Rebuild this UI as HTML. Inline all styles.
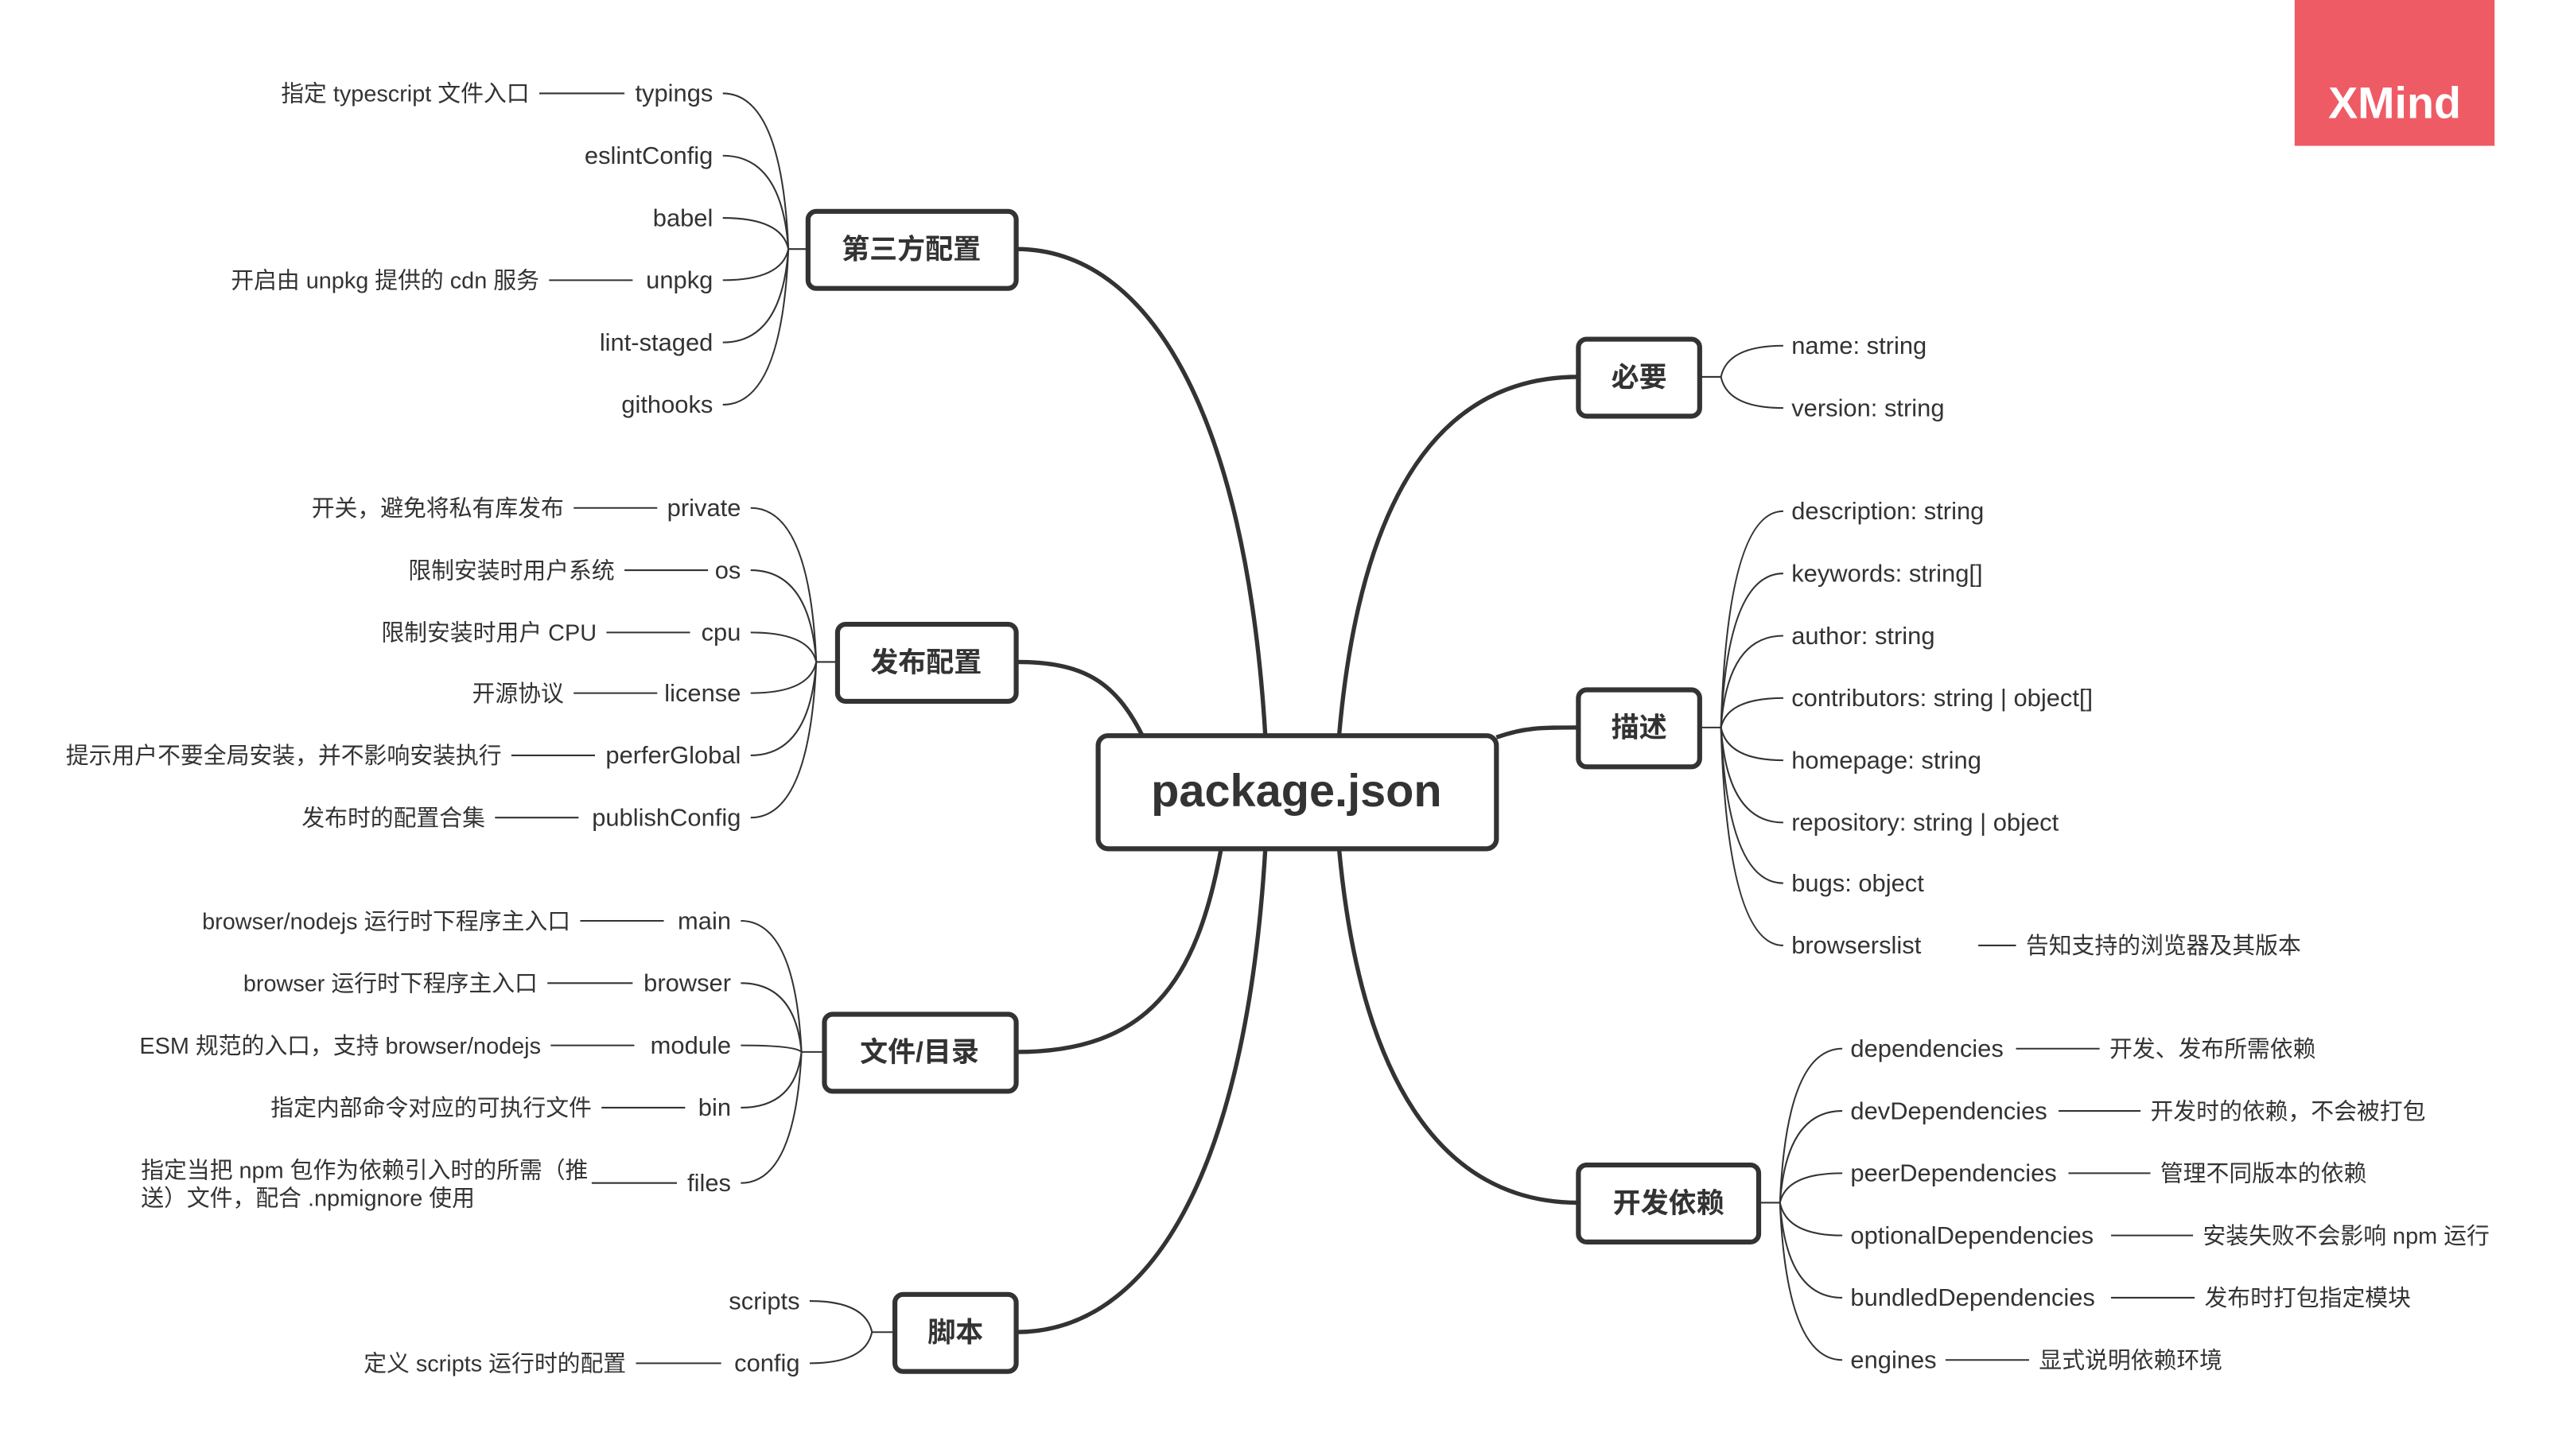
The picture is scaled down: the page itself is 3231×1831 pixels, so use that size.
<!DOCTYPE html>
<html><head><meta charset="utf-8"><style>
html,body{margin:0;padding:0;background:#fff;}
svg{display:block}
text{font-family:"Liberation Sans","Noto Sans CJK SC",sans-serif;fill:#333;font-size:14px}
.e{font-size:15px}
.l{text-anchor:end}
.n{font-size:17px;font-weight:bold;text-anchor:middle}
</style></head><body>
<svg width="3231" height="1831" viewBox="0 0 1568 888.6" preserveAspectRatio="none" xmlns="http://www.w3.org/2000/svg">
<rect width="1570" height="890" fill="#fff"/>
<rect x="1400" y="0" width="122" height="89" fill="#ef5b64"/>
<text x="1461" y="72" style="fill:#fff;font-size:27px;font-weight:bold;text-anchor:middle">XMind</text>

<g fill="none" stroke="#333" stroke-width="2.6">
<path d="M772,449 C760,250 700,152 620,152"/>
<path d="M697,449 C680,415 660,404 620,404"/>
<path d="M745,518 C730,600 700,642 620,642"/>
<path d="M772,518 C760,720 700,813 620,813"/>
<path d="M817,449 C830,300 880,230 963,230"/>
<path d="M913,450 C930,444 940,444 963,444"/>
<path d="M817,518 C830,660 880,734 963,734"/>
</g>

<g fill="none" stroke="#333" stroke-width="1">
<path d="M493,152 H481"/>
<path d="M481,152 Q477,57 441,57"/><path d="M481,152 Q477,95 441,95"/><path d="M481,152 Q477,133 441,133"/>
<path d="M481,152 Q477,171 441,171"/><path d="M481,152 Q477,209 441,209"/><path d="M481,152 Q477,247 441,247"/>
<path d="M329,57 H381"/><path d="M335,171 H386"/>
<path d="M511,404 H498"/>
<path d="M498,404 Q494,310 458,310"/><path d="M498,404 Q494,348 458,348"/><path d="M498,404 Q494,386 458,386"/>
<path d="M498,404 Q494,423 458,423"/><path d="M498,404 Q494,461 458,461"/><path d="M498,404 Q494,499 458,499"/>
<path d="M350,310 H401"/><path d="M381,348 H432"/><path d="M370,386 H421"/><path d="M350,423 H401"/><path d="M312,461 H363"/><path d="M302,499 H353"/>
<path d="M503,642 H489"/>
<path d="M489,642 Q485,562 452,562"/><path d="M489,642 Q485,600 452,600"/><path d="M489,642 Q485,638 452,638"/>
<path d="M489,642 Q485,676 452,676"/><path d="M489,642 Q485,722 452,722"/>
<path d="M354,562 H405"/><path d="M334,600 H386"/><path d="M336,638 H387"/><path d="M367,676 H418"/><path d="M361,722 H413"/>
<path d="M546,813 H532"/>
<path d="M532,813 Q528,794 494,794"/><path d="M532,813 Q528,832 494,832"/>
<path d="M388,832 H440"/>
<path d="M1037,230 H1050"/>
<path d="M1050,230 Q1054,211 1088,211"/><path d="M1050,230 Q1054,249 1088,249"/>
<path d="M1037,444 H1050"/>
<path d="M1050,444 Q1054,312 1088,312"/><path d="M1050,444 Q1054,350 1088,350"/><path d="M1050,444 Q1054,388 1088,388"/>
<path d="M1050,444 Q1054,426 1088,426"/><path d="M1050,444 Q1054,464 1088,464"/><path d="M1050,444 Q1054,502 1088,502"/>
<path d="M1050,444 Q1054,539 1088,539"/><path d="M1050,444 Q1054,577 1088,577"/>
<path d="M1207,577 H1230"/>
<path d="M1073,734 H1086"/>
<path d="M1086,734 Q1090,640 1124,640"/><path d="M1086,734 Q1090,678 1124,678"/><path d="M1086,734 Q1090,716 1124,716"/>
<path d="M1086,734 Q1090,754 1124,754"/><path d="M1086,734 Q1090,792 1124,792"/><path d="M1086,734 Q1090,830 1124,830"/>
<path d="M1230,640 H1281"/><path d="M1256,678 H1306"/><path d="M1262,716 H1312"/><path d="M1288,754 H1338"/><path d="M1288,792 H1339"/><path d="M1187,830 H1238"/>
</g>

<g fill="#fff" stroke="#333" stroke-width="3">
<rect x="670" y="449" width="243" height="69" rx="6"/>
<rect x="493" y="129" width="127" height="47" rx="5"/>
<rect x="511" y="381" width="109" height="47" rx="5"/>
<rect x="503" y="619" width="117" height="47" rx="5"/>
<rect x="546" y="790" width="74" height="47" rx="5"/>
<rect x="963" y="207" width="74" height="47" rx="5"/>
<rect x="963" y="421" width="74" height="47" rx="5"/>
<rect x="963" y="711" width="110" height="47" rx="5"/>
</g>
<text x="791" y="492" style="font-size:28px;font-weight:bold;text-anchor:middle">package.json</text>
<text class="n" x="556" y="158">第三方配置</text>
<text class="n" x="565" y="410">发布配置</text>
<text class="n" x="561" y="648">文件/目录</text>
<text class="n" x="583" y="819">脚本</text>
<text class="n" x="1000" y="236">必要</text>
<text class="n" x="1000" y="450">描述</text>
<text class="n" x="1018" y="740">开发依赖</text>

<text class="l e" x="435" y="62">typings</text>
<text class="l e" x="435" y="100">eslintConfig</text>
<text class="l e" x="435" y="138">babel</text>
<text class="l e" x="435" y="176">unpkg</text>
<text class="l e" x="435" y="214">lint-staged</text>
<text class="l e" x="435" y="252">githooks</text>
<text class="l" x="323" y="62">指定 typescript 文件入口</text>
<text class="l" x="329" y="176">开启由 unpkg 提供的 cdn 服务</text>

<text class="l e" x="452" y="315">private</text>
<text class="l e" x="452" y="353">os</text>
<text class="l e" x="452" y="391">cpu</text>
<text class="l e" x="452" y="428">license</text>
<text class="l e" x="452" y="466">perferGlobal</text>
<text class="l e" x="452" y="504">publishConfig</text>
<text class="l" x="344" y="315">开关，避免将私有库发布</text>
<text class="l" x="375" y="353">限制安装时用户系统</text>
<text class="l" x="364" y="391">限制安装时用户 CPU</text>
<text class="l" x="344" y="428">开源协议</text>
<text class="l" x="306" y="466">提示用户不要全局安装，并不影响安装执行</text>
<text class="l" x="296" y="504">发布时的配置合集</text>

<text class="l e" x="446" y="567">main</text>
<text class="l e" x="446" y="605">browser</text>
<text class="l e" x="446" y="643">module</text>
<text class="l e" x="446" y="681">bin</text>
<text class="l e" x="446" y="727">files</text>
<text class="l" x="348" y="567">browser/nodejs 运行时下程序主入口</text>
<text class="l" x="328" y="605">browser 运行时下程序主入口</text>
<text class="l" x="330" y="643">ESM 规范的入口，支持 browser/nodejs</text>
<text class="l" x="361" y="681">指定内部命令对应的可执行文件</text>
<text x="86" y="719">指定当把 npm 包作为依赖引入时的所需（推</text>
<text x="86" y="736">送）文件，配合 .npmignore 使用</text>

<text class="l e" x="488" y="799">scripts</text>
<text class="l e" x="488" y="837">config</text>
<text class="l" x="382" y="837">定义 scripts 运行时的配置</text>

<text class="e" x="1093" y="216">name: string</text>
<text class="e" x="1093" y="254">version: string</text>

<text class="e" x="1093" y="317">description: string</text>
<text class="e" x="1093" y="355">keywords: string[]</text>
<text class="e" x="1093" y="393">author: string</text>
<text class="e" x="1093" y="431">contributors: string | object[]</text>
<text class="e" x="1093" y="469">homepage: string</text>
<text class="e" x="1093" y="507">repository: string | object</text>
<text class="e" x="1093" y="544">bugs: object</text>
<text class="e" x="1093" y="582">browserslist</text>
<text x="1236" y="582">告知支持的浏览器及其版本</text>

<text class="e" x="1129" y="645">dependencies</text>
<text class="e" x="1129" y="683">devDependencies</text>
<text class="e" x="1129" y="721">peerDependencies</text>
<text class="e" x="1129" y="759">optionalDependencies</text>
<text class="e" x="1129" y="797">bundledDependencies</text>
<text class="e" x="1129" y="835">engines</text>
<text x="1287" y="645">开发、发布所需依赖</text>
<text x="1312" y="683">开发时的依赖，不会被打包</text>
<text x="1318" y="721">管理不同版本的依赖</text>
<text x="1344" y="759">安装失败不会影响 npm 运行</text>
<text x="1345" y="797">发布时打包指定模块</text>
<text x="1244" y="835">显式说明依赖环境</text>
</svg>
</body></html>
